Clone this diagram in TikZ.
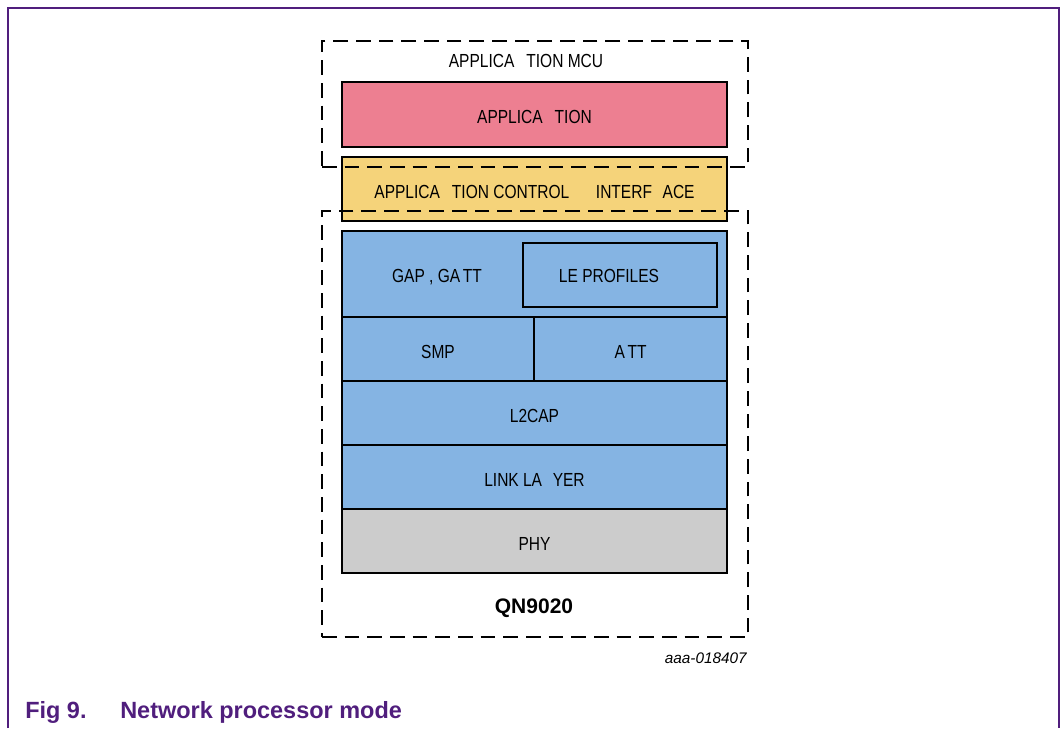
\documentclass[tikz,border=0pt]{standalone}
\usepackage{fontspec}
\setmainfont{Liberation Sans}
\newfontfamily\narrowfont[FakeStretch=0.82]{Liberation Sans}
\newcommand{\gp}[1]{\hspace*{#1pt}}
\definecolor{apppink}{RGB}{237,127,145}
\definecolor{ifyellow}{RGB}{245,211,122}
\definecolor{stackblue}{RGB}{133,180,227}
\definecolor{phygray}{RGB}{204,204,204}
\definecolor{nxppurple}{RGB}{80,30,125}
\begin{document}
\begin{tikzpicture}[x=0.75pt,y=-0.75pt,
  layer/.style={draw=black,line width=2.1pt,rectangle,inner sep=0pt,text height=14pt,text depth=0pt,
    font=\narrowfont\fontsize{14.2}{16}\selectfont},
  dbox/.style={draw=black,line width=2.1pt,dash pattern=on 11pt off 6pt,rectangle,inner sep=0pt,
    minimum width=319.5pt,minimum height=94.5pt},
  lbl/.style={inner sep=0pt,font=\narrowfont\fontsize{14.2}{16}\selectfont},
  frame/.style={draw=nxppurple,line width=1.1pt}]
\useasboundingbox (0,0) rectangle (1063,728);
\coordinate (f1) at (8,728);
\coordinate (f2) at (8,8);
\coordinate (f3) at (1059,8);
\coordinate (f4) at (1059,728);
\draw[frame] (f1) -- (f2) -- (f3) -- (f4);
% layers
\node[layer,fill=apppink,minimum width=288.75pt,minimum height=48.75pt] (app) at (534.5,114.5) {APPLICA\gp{9}TION};
\node[layer,fill=ifyellow,minimum width=288.75pt,minimum height=48pt] (aci) at (534.5,189) {APPLICA\gp{9}TION CONTROL\gp{20}INTERF\gp{8}ACE};
\node[layer,fill=stackblue,minimum width=288.75pt,minimum height=64.5pt] (gap) at (534.5,274) {};
\node[lbl] (gaplbl) at (437,277) {GAP , GA\gp{2}TT};
\node[layer,fill=stackblue,minimum width=145.5pt,minimum height=48pt] (le) at (620,275) {};
\node[lbl] (lelbl) at (609,276) {LE PROFILES};
\node[layer,fill=stackblue,minimum width=144pt,minimum height=48pt] (smp) at (438,349) {SMP};
\node[layer,fill=stackblue,minimum width=144.75pt,minimum height=48pt] (att) at (630.5,349) {A\gp{2}TT};
\node[layer,fill=stackblue,minimum width=288.75pt,minimum height=48pt] (l2cap) at (534.5,413) {L2CAP};
\node[layer,fill=stackblue,minimum width=288.75pt,minimum height=48pt] (ll) at (534.5,477) {LINK LA\gp{8}YER};
\node[layer,fill=phygray,minimum width=288.75pt,minimum height=48pt] (phy) at (534.5,541) {PHY};
% dashed containers
\node[dbox] (mcu) at (535,104) {};
\node[dbox,minimum height=319.5pt] (qn) at (535,424) {};
\node[lbl] (mculbl) at (526,61) {APPLICA\gp{9}TION MCU};
\node[inner sep=0pt,font=\bfseries\fontsize{15.75}{18}\selectfont] (qnlbl) at (534,608) {QN9020};
\node[inner sep=0pt,anchor=east,font=\itshape\fontsize{11.5}{14}\selectfont] (code) at (747,658) {aaa-018407};
% caption
\node[inner sep=0pt,anchor=base west,text=nxppurple,font=\bfseries\fontsize{17.6}{20}\selectfont] (fig) at (25,718) {Fig 9.};
\node[inner sep=0pt,anchor=base west,text=nxppurple,font=\bfseries\fontsize{17.6}{20}\selectfont] (cap) at (120,718) {Network processor mode};
\end{tikzpicture}
\end{document}
